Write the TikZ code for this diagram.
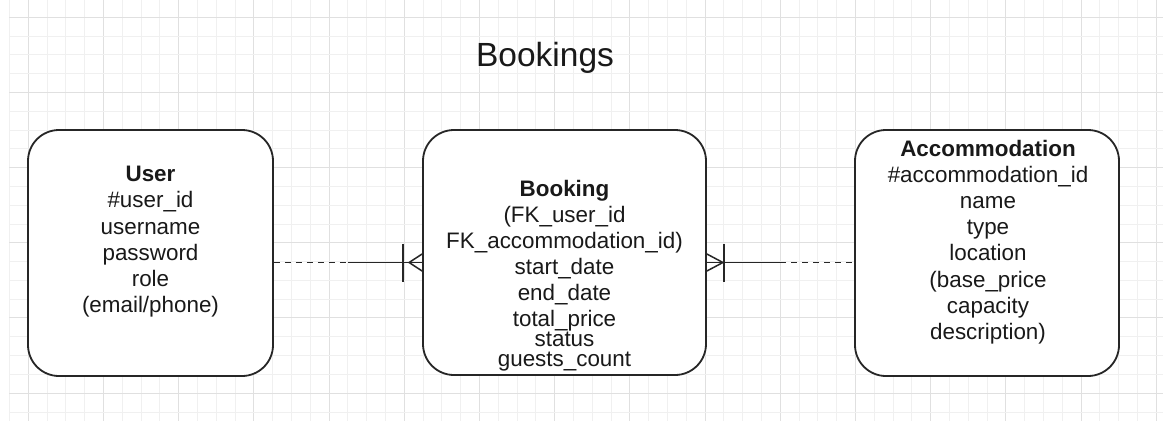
\documentclass[tikz,border=0pt]{standalone}
\usepackage{fontspec}
\setmainfont{Liberation Sans}
\begin{document}
\begin{tikzpicture}[x=1pt,y=-1pt,
  box/.style={draw=black!85, line width=1.8pt, rounded corners=31pt, fill=white, inner sep=0pt},
  txt/.style={anchor=base, inner sep=0pt, font=\fontsize{22.4}{26}\selectfont, text=black!90},
  ttl/.style={anchor=base, inner sep=0pt, font=\fontsize{33.5}{40}\selectfont, text=black!90},
  rel/.style={line width=1.5pt, draw=black!85},
  dashrel/.style={rel, dash pattern=on 6pt off 5pt},
  gmin/.style={draw=black!6, line width=0.6pt},
  gmaj/.style={draw=black!12, line width=0.7pt}]
\useasboundingbox (0,0) rectangle (1167,421);
\fill[white] (0,0) rectangle (1167,421);
% grid
\foreach \k in {0,...,61} {
  \pgfmathsetmacro\gx{9.3+18.8*\k}
  \pgfmathtruncatemacro\m{mod(\k,4)}
  \ifnum\m=1 \draw[gmaj] (\gx,0) -- (\gx,421); \else \draw[gmin] (\gx,0) -- (\gx,421); \fi
}
\foreach \k in {0,...,21} {
  \pgfmathsetmacro\gy{17+18.8*\k}
  \pgfmathtruncatemacro\m{mod(\k,4)}
  \ifnum\m=0 \draw[gmaj] (9.3,\gy) -- (1163,\gy); \else \draw[gmin] (9.3,\gy) -- (1163,\gy); \fi
}
% title
\node[ttl] (title) at (545,66.7) {Bookings};
% boxes
\node[box, minimum width=245pt, minimum height=246pt] (user) at (150.5,253) {};
\node[box, minimum width=283pt, minimum height=245pt] (booking) at (564.5,252.5) {};
\node[box, minimum width=264pt, minimum height=246pt] (accom) at (987,253) {};
% user text
\foreach \t [count=\i from 0] in {{\textbf{User}}, {\#user\_id}, {username}, {password}, {role}, {(email/phone)}}
  \node[txt] (u\i) at (150.5, 181.7+26.2*\i) {\t};
% booking text
\foreach \yy/\t [count=\i] in {196/{\textbf{Booking}}, 222/{(FK\_user\_id}, 248/{FK\_accommodation\_id)}, 274/{start\_date}, 300/{end\_date}, 326.5/{total\_price}, 346.5/{status}, 366/{guests\_count}}
  \node[txt] (b\i) at (564.5, \yy) {\t};
% accommodation text
\foreach \t [count=\i from 0] in {{\textbf{Accommodation}}, {\#accommodation\_id}, {name}, {type}, {location}, {(base\_price}, {capacity}, {description)}}
  \node[txt] (a\i) at (988, 156+26.2*\i) {\t};
% connectors
\coordinate (lmid) at (348,262.5);
\coordinate (rmid) at (780,262.5);
\draw[dashrel] (user.east |- lmid) -- (lmid);
\draw[rel] (lmid) -- (booking.west |- lmid);
\draw[rel] ([xshift=-19pt]booking.west |- lmid) ++(0,-19) -- ++(0,38);
\draw[rel] ([yshift=8.5pt]booking.west |- lmid) -- ([xshift=-13pt]booking.west |- lmid) -- ([yshift=-8.5pt]booking.west |- lmid);
\draw[rel] (booking.east |- rmid) -- (rmid);
\draw[dashrel] (rmid) -- (accom.west |- rmid);
\draw[rel] ([xshift=17pt]booking.east |- rmid) ++(0,-19) -- ++(0,38);
\draw[rel] ([yshift=8.5pt]booking.east |- rmid) -- ([xshift=16pt]booking.east |- rmid) -- ([yshift=-8.5pt]booking.east |- rmid);
\end{tikzpicture}
\end{document}
